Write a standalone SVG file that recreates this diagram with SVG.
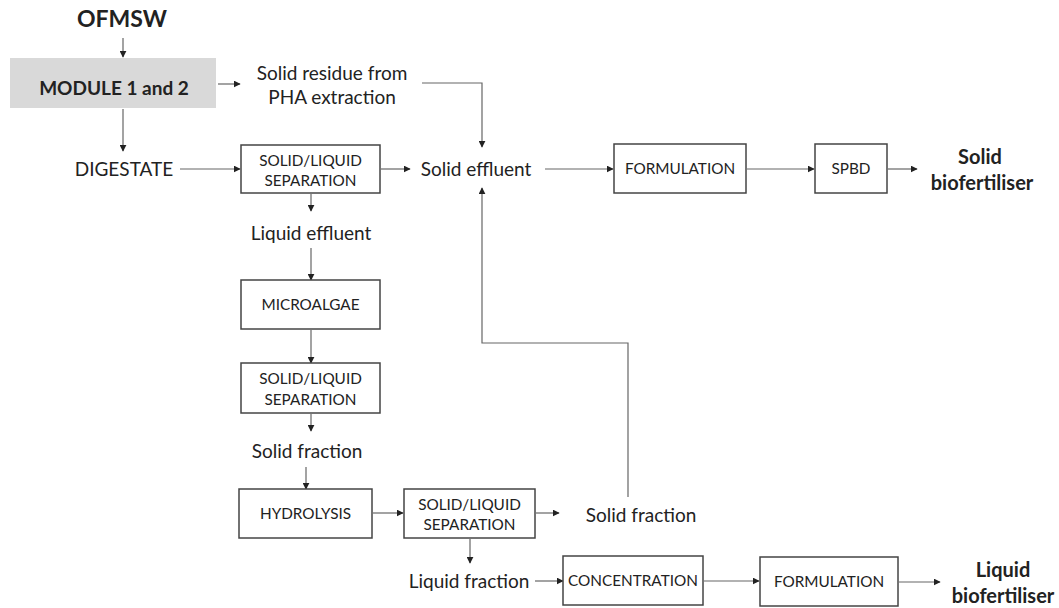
<svg xmlns="http://www.w3.org/2000/svg" width="1059" height="608" viewBox="0 0 1059 608">
  <style>
    .t { font-family: Lato, "Open Sans", "Liberation Sans", sans-serif; fill: #222; text-anchor: middle; }
    .lbl { font-size: 19px; }
    .box-t { font-size: 15.3px; }
    .b { font-weight: bold; }
    .box { fill: #fff; stroke: #444; stroke-width: 1.5; }
    .ln { fill: none; stroke: #666; stroke-width: 1.2; }
  </style>
  <defs>
    <marker id="ah" viewBox="0 0 10 10" refX="9" refY="5" markerWidth="7" markerHeight="7" markerUnits="userSpaceOnUse" orient="auto">
      <path d="M0,0 L10,5 L0,10 z" fill="#222"/>
    </marker>
  </defs>
  <rect width="1059" height="608" fill="#fff"/>

  <!-- connectors -->
  <g id="connectors">
    <line class="ln" x1="123" y1="38" x2="123" y2="57" marker-end="url(#ah)"/>
    <line class="ln" x1="218" y1="84" x2="240" y2="84" marker-end="url(#ah)"/>
    <polyline class="ln" points="422,83 482,83 482,147" marker-end="url(#ah)"/>
    <line class="ln" x1="123" y1="109" x2="123" y2="151" marker-end="url(#ah)"/>
    <line class="ln" x1="180" y1="169" x2="240" y2="169" marker-end="url(#ah)"/>
    <line class="ln" x1="381" y1="169" x2="410" y2="169" marker-end="url(#ah)"/>
    <line class="ln" x1="545" y1="169" x2="613" y2="169" marker-end="url(#ah)"/>
    <line class="ln" x1="747" y1="169" x2="814" y2="169" marker-end="url(#ah)"/>
    <line class="ln" x1="888" y1="169" x2="917" y2="169" marker-end="url(#ah)"/>
    <line class="ln" x1="311" y1="194" x2="311" y2="211" marker-end="url(#ah)"/>
    <line class="ln" x1="311" y1="248" x2="311" y2="280" marker-end="url(#ah)"/>
    <line class="ln" x1="311" y1="330" x2="311" y2="363" marker-end="url(#ah)"/>
    <line class="ln" x1="311" y1="414" x2="311" y2="431" marker-end="url(#ah)"/>
    <line class="ln" x1="306" y1="467" x2="306" y2="489" marker-end="url(#ah)"/>
    <line class="ln" x1="373" y1="513" x2="403" y2="513" marker-end="url(#ah)"/>
    <line class="ln" x1="536" y1="513" x2="559" y2="513" marker-end="url(#ah)"/>
    <polyline class="ln" points="628,497 628,343 482,343 482,188" marker-end="url(#ah)"/>
    <line class="ln" x1="470" y1="539" x2="470" y2="563" marker-end="url(#ah)"/>
    <line class="ln" x1="535" y1="581" x2="563" y2="581" marker-end="url(#ah)"/>
    <line class="ln" x1="704" y1="581" x2="759" y2="581" marker-end="url(#ah)"/>
    <line class="ln" x1="899" y1="582" x2="940" y2="582" marker-end="url(#ah)"/>
  </g>

  <g id="ofmsw"><text class="t b" x="122" y="27" font-size="23">OFMSW</text></g>

  <g id="module12">
    <rect x="10" y="58" width="206" height="50" fill="#d9d9d9"/>
    <text class="t b" x="114" y="95" font-size="19">MODULE 1 and 2</text>
  </g>

  <g id="solid-residue">
    <text class="t lbl" x="332" y="80">Solid residue from</text>
    <text class="t lbl" x="332" y="104">PHA extraction</text>
  </g>

  <g id="digestate"><text class="t lbl" x="124" y="176">DIGESTATE</text></g>

  <g id="sep1">
    <rect class="box" x="241" y="145" width="139" height="48"/>
    <text class="t box-t" x="310.5" y="166">SOLID/LIQUID</text>
    <text class="t box-t" x="310.5" y="186">SEPARATION</text>
  </g>

  <g id="solid-effluent"><text class="t lbl" x="476" y="176">Solid effluent</text></g>

  <g id="formulation1">
    <rect class="box" x="614" y="144" width="132" height="49"/>
    <text class="t box-t" x="680" y="174">FORMULATION</text>
  </g>

  <g id="spbd">
    <rect class="box" x="815" y="144" width="72" height="49"/>
    <text class="t box-t" x="851" y="174">SPBD</text>
  </g>

  <g id="solid-biofertiliser">
    <text class="t b" x="980" y="164" font-size="20">Solid</text>
    <text class="t b" x="982" y="190" font-size="20">biofertiliser</text>
  </g>

  <g id="liquid-effluent"><text class="t lbl" x="311" y="240">Liquid effluent</text></g>

  <g id="microalgae">
    <rect class="box" x="241" y="280" width="139" height="49"/>
    <text class="t box-t" x="310.5" y="310">MICROALGAE</text>
  </g>

  <g id="sep2">
    <rect class="box" x="241" y="363" width="139" height="50"/>
    <text class="t box-t" x="310.5" y="384">SOLID/LIQUID</text>
    <text class="t box-t" x="310.5" y="405">SEPARATION</text>
  </g>

  <g id="solid-fraction1"><text class="t lbl" x="307" y="458">Solid fraction</text></g>

  <g id="hydrolysis">
    <rect class="box" x="239" y="489" width="133" height="49"/>
    <text class="t box-t" x="305.5" y="519">HYDROLYSIS</text>
  </g>

  <g id="sep3">
    <rect class="box" x="404" y="489" width="131" height="49"/>
    <text class="t box-t" x="469.5" y="510">SOLID/LIQUID</text>
    <text class="t box-t" x="469.5" y="530">SEPARATION</text>
  </g>

  <g id="solid-fraction2"><text class="t lbl" x="641" y="522">Solid fraction</text></g>

  <g id="liquid-fraction"><text class="t lbl" x="469" y="588">Liquid fraction</text></g>

  <g id="concentration">
    <rect class="box" x="563" y="556" width="140" height="49"/>
    <text class="t box-t" x="633" y="586">CONCENTRATION</text>
  </g>

  <g id="formulation2">
    <rect class="box" x="760" y="557" width="138" height="49"/>
    <text class="t box-t" x="829" y="587">FORMULATION</text>
  </g>

  <g id="liquid-biofertiliser">
    <text class="t b" x="1003" y="577" font-size="20">Liquid</text>
    <text class="t b" x="1003" y="603" font-size="20">biofertiliser</text>
  </g>
</svg>
